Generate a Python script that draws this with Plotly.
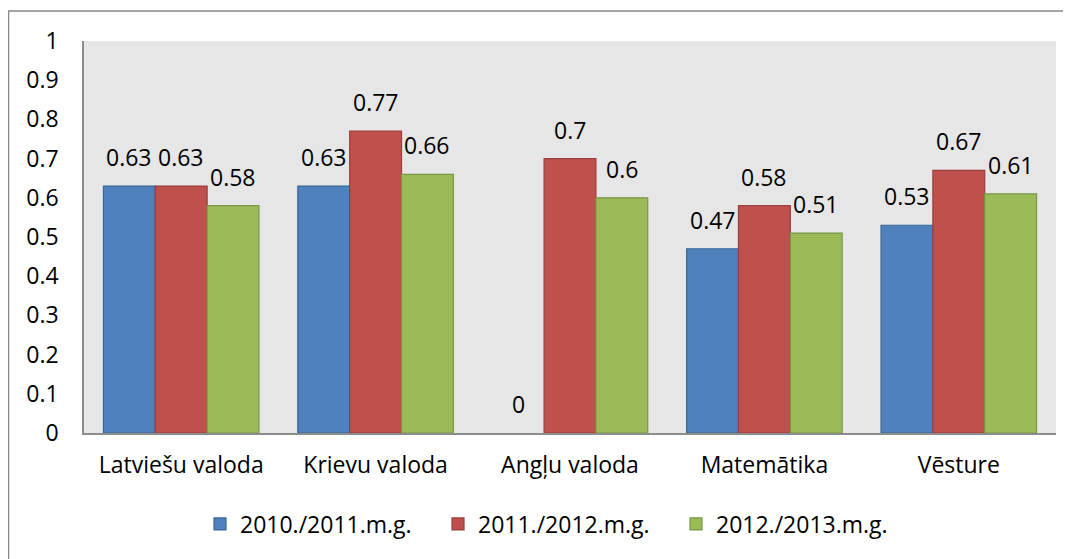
import plotly.graph_objects as go

categories = ["Latviešu valoda", "Krievu valoda", "Angļu valoda", "Matemātika", "Vēsture"]
series_names = ["2010./2011.m.g.", "2011./2012.m.g.", "2012./2013.m.g."]
values_2010 = [0.63, 0.63, 0, 0.47, 0.53]
values_2011 = [0.63, 0.77, 0.7, 0.58, 0.67]
values_2012 = [0.58, 0.66, 0.6, 0.51, 0.61]
y_ticks = [0, 0.1, 0.2, 0.3, 0.4, 0.5, 0.6, 0.7, 0.8, 0.9, 1]
y_tick_labels = ["0", "0.1", "0.2", "0.3", "0.4", "0.5", "0.6", "0.7", "0.8", "0.9", "1"]

fills = ["#4F81BD", "#C0504D", "#9BBB59"]
borders = ["#3A6696", "#9B3D3A", "#7A9744"]
FONT = "Open Sans"
FS = 23
OFF = 8  # page body margin
W, H = 1071 - OFF, 559 - OFF
L, T = 84 - OFF, 41 - OFF
R = W - (1056 - OFF)
B = H - (433 - OFF)
pw = W - L - R
ph = H - T - B

fig = go.Figure()
all_vals = [values_2010, values_2011, values_2012]
for name, vals, f, bc in zip(series_names, all_vals, fills, borders):
    fig.add_trace(go.Bar(
        x=categories, y=vals, name=name,
        marker=dict(color=f, line=dict(color=bc, width=[1.2 if v else 0 for v in vals])),
    ))

bar_px = pw / len(categories) * 0.8 / 3
annotations = []
for i, vals in enumerate(all_vals):
    for c, v in zip(categories, vals):
        annotations.append(dict(
            x=c, y=v, xref="x", yref="y", text=f"{v:g}", showarrow=False,
            xshift=(i - 1) * bar_px, yanchor="bottom", yshift=11,
            font=dict(family=FONT, size=FS, color="#000000"),
        ))

def px_x(p):
    return (p - OFF - L) / pw

def px_y(p):
    return (H - B - (p - OFF)) / ph

fig.update_layout(
    width=W, height=H,
    margin=dict(l=L, r=R, t=T, b=B),
    paper_bgcolor="#FFFFFF",
    plot_bgcolor="#E6E6E6",
    barmode="group", bargap=0.2, bargroupgap=0,
    font=dict(family=FONT, size=FS, color="#000000"),
    showlegend=True,
    legend=dict(
        orientation="h", x=px_x(200), xanchor="left", y=px_y(524), yanchor="middle",
        entrywidth=193, entrywidthmode="pixels",
        font=dict(family=FONT, size=FS, color="#000000"),
        bgcolor="rgba(0,0,0,0)", itemclick=False,
    ),
    annotations=annotations,
    shapes=[dict(
        type="rect", xref="paper", yref="paper",
        x0=px_x(8.5), x1=px_x(1300), y0=px_y(800), y1=px_y(11),
        line=dict(color="#878787", width=1.5), fillcolor="rgba(0,0,0,0)", layer="below",
    )],
)
fig.update_xaxes(
    showgrid=False, showline=True, linecolor="#8C8C8C", linewidth=1.5,
    ticks="", ticklabelstandoff=11, tickfont=dict(family=FONT, size=FS),
)
fig.update_yaxes(
    range=[0, 1], tickvals=y_ticks, ticktext=y_tick_labels,
    showgrid=False, zeroline=False, showline=True, linecolor="#8C8C8C", linewidth=1.5,
    ticks="", ticklabelstandoff=19, tickfont=dict(family=FONT, size=FS),
)

fig.write_html("out.html")
